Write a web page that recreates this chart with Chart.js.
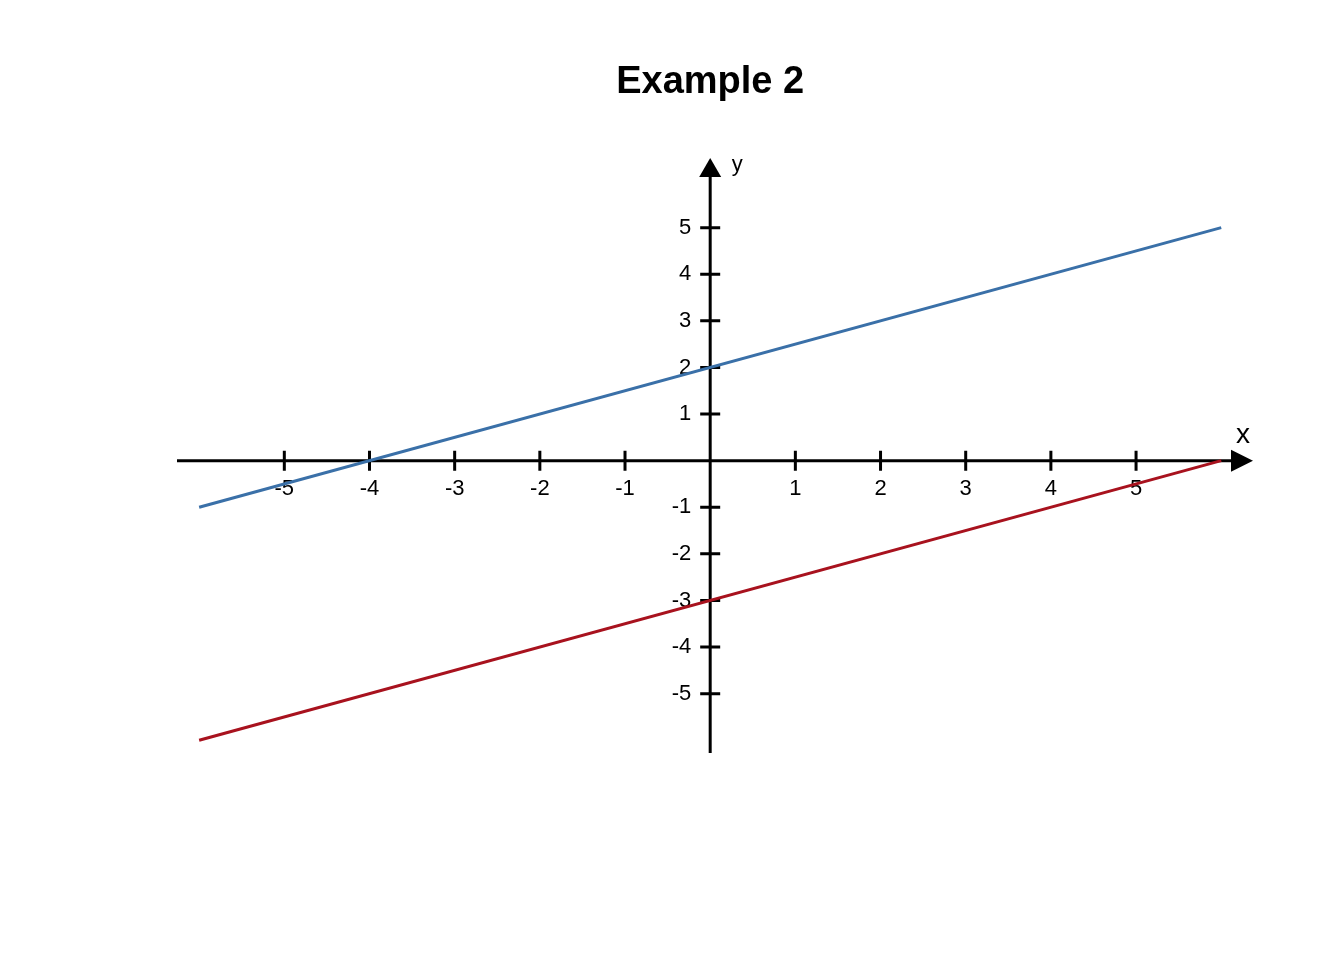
<!DOCTYPE html>
<html>
<head>
<meta charset="utf-8">
<script src="https://cdn.jsdelivr.net/npm/chart.js@4.4.1/dist/chart.umd.min.js"></script>
<style>
  html, body { margin: 0; padding: 0; background: #ffffff; }
  #wrap { width: 1344px; height: 960px; }
</style>
</head>
<body>
<div id="wrap"><canvas id="c" width="1344" height="960"></canvas></div>
<script>
// ---- data ----
const lineX = [-6, 6];
const blueY = [-1, 5];
const redY = [-6, 0];
const xTicks = [-5, -4, -3, -2, -1, 1, 2, 3, 4, 5];
const yTicks = [-5, -4, -3, -2, -1, 1, 2, 3, 4, 5];
const xRange = [-6.26, 6.373];
const yRange = [-6.274, 6.495];
const titleText = 'Example 2';
const xAxisLabel = 'x';
const yAxisLabel = 'y';

const FONT = '"Liberation Sans", Arial, Helvetica, sans-serif';

const axesPlugin = {
  id: 'customAxes',
  beforeDatasetsDraw(chart) {
    const ctx = chart.ctx;
    const xs = chart.scales.x, ys = chart.scales.y;
    const x0 = xs.getPixelForValue(0), y0 = ys.getPixelForValue(0);
    const xl = xs.getPixelForValue(xRange[0]), xr = xs.getPixelForValue(xRange[1]);
    const yb = ys.getPixelForValue(yRange[0]), yt = ys.getPixelForValue(yRange[1]);
    ctx.save();
    ctx.strokeStyle = '#000';
    ctx.fillStyle = '#000';
    ctx.lineWidth = 3;
    ctx.lineCap = 'butt';
    // title, centred over the plot region
    ctx.font = 'bold 38px ' + FONT;
    ctx.textAlign = 'center';
    ctx.textBaseline = 'middle';
    ctx.fillText(titleText, x0, 83);
    // x axis line
    ctx.beginPath();
    ctx.moveTo(xl, y0);
    ctx.lineTo(xr - 10, y0);
    ctx.stroke();
    // x arrow
    ctx.beginPath();
    ctx.moveTo(xr, y0);
    ctx.lineTo(xr - 22, y0 - 11);
    ctx.lineTo(xr - 22, y0 + 11);
    ctx.closePath();
    ctx.fill();
    // y axis line
    ctx.beginPath();
    ctx.moveTo(x0, yb);
    ctx.lineTo(x0, yt + 10);
    ctx.stroke();
    // y arrow
    ctx.beginPath();
    ctx.moveTo(x0, yt);
    ctx.lineTo(x0 - 11, yt + 19);
    ctx.lineTo(x0 + 11, yt + 19);
    ctx.closePath();
    ctx.fill();
    // ticks
    ctx.beginPath();
    xTicks.forEach(v => {
      const px = xs.getPixelForValue(v);
      ctx.moveTo(px, y0 - 10);
      ctx.lineTo(px, y0 + 10);
    });
    yTicks.forEach(v => {
      const py = ys.getPixelForValue(v);
      ctx.moveTo(x0 - 10, py);
      ctx.lineTo(x0 + 10, py);
    });
    ctx.stroke();
    // tick labels
    ctx.font = '22px ' + FONT;
    ctx.textAlign = 'center';
    ctx.textBaseline = 'middle';
    xTicks.forEach(v => {
      ctx.fillText(String(v), xs.getPixelForValue(v), y0 + 28);
    });
    ctx.textAlign = 'right';
    yTicks.forEach(v => {
      ctx.fillText(String(v), x0 - 19, ys.getPixelForValue(v));
    });
    // axis names
    ctx.textAlign = 'center';
    ctx.textBaseline = 'alphabetic';
    ctx.font = '28px ' + FONT;
    ctx.fillText(xAxisLabel, xr - 10, y0 - 18);
    ctx.font = '22px ' + FONT;
    ctx.fillText(yAxisLabel, x0 + 27, yt + 13);
    ctx.restore();
  }
};

new Chart(document.getElementById('c'), {
  type: 'scatter',
  data: {
    datasets: [
      {
        label: 'blue',
        data: lineX.map((x, i) => ({ x: x, y: blueY[i] })),
        showLine: true,
        borderColor: '#3a70a8',
        borderWidth: 3,
        pointRadius: 0,
        clip: false
      },
      {
        label: 'red',
        data: lineX.map((x, i) => ({ x: x, y: redY[i] })),
        showLine: true,
        borderColor: '#a8121e',
        borderWidth: 3,
        pointRadius: 0,
        clip: false
      }
    ]
  },
  options: {
    responsive: false,
    animation: false,
    devicePixelRatio: 1,
    layout: { padding: { left: 177, right: 91, top: 158, bottom: 207 } },
    scales: {
      x: { type: 'linear', min: xRange[0], max: xRange[1], display: false },
      y: { type: 'linear', min: yRange[0], max: yRange[1], display: false }
    },
    plugins: {
      legend: { display: false },
      tooltip: { enabled: false },
      title: { display: false }
    }
  },
  plugins: [axesPlugin]
});
</script>
</body>
</html>
